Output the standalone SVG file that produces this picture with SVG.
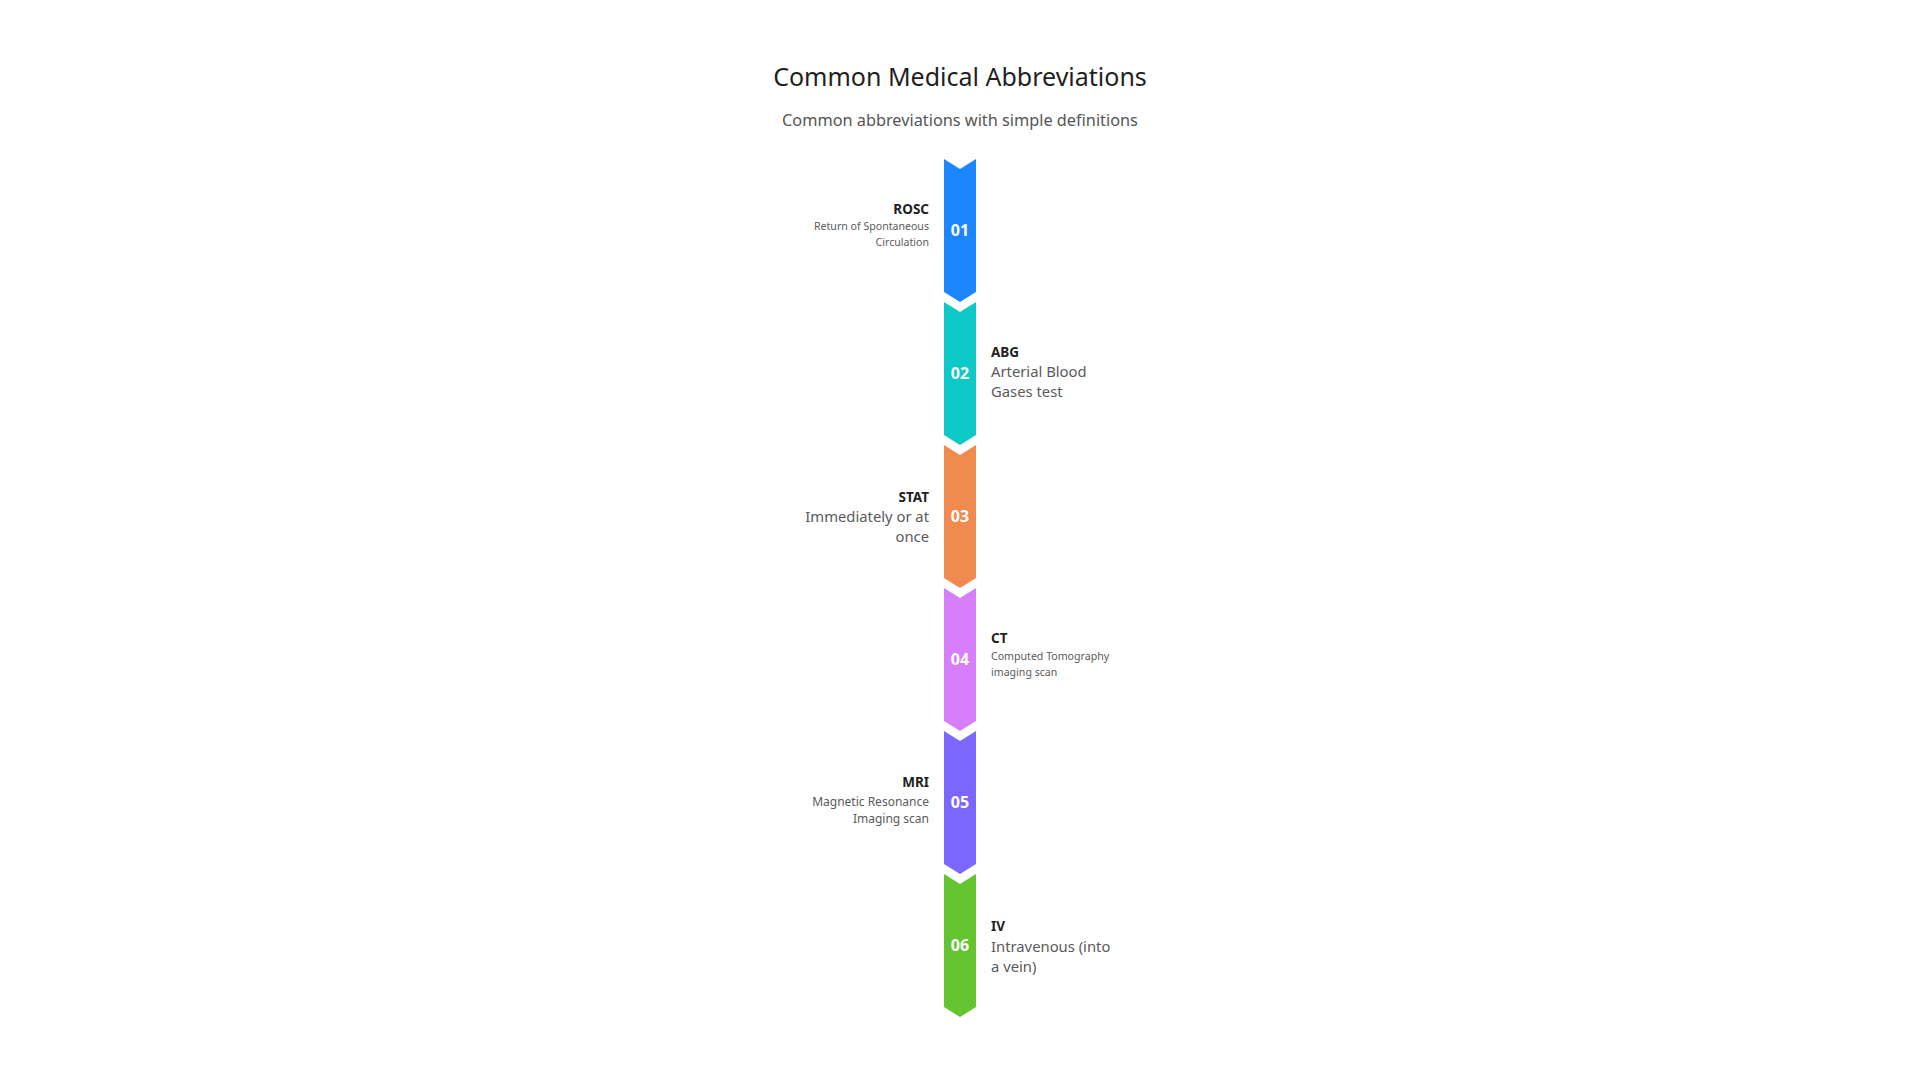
<svg xmlns="http://www.w3.org/2000/svg" width="1920" height="1080" viewBox="0 0 1920 1080">
<style>
text{font-family:"Noto Sans","Open Sans","Liberation Sans",sans-serif}
.title{font-size:25px;fill:#1f1f1f;text-anchor:middle}
.sub{font-size:16.3px;fill:#555;text-anchor:middle}
.num{font-size:16px;font-weight:bold;fill:#fff;text-anchor:middle}
.h{font-size:13.5px;font-weight:bold;fill:#222}
.d{fill:#5a5a5a}
.s{font-size:10.6px}
.m{font-size:12px}
.l{font-size:14.8px}
.end{text-anchor:end}
</style>
<defs>
<path id="chev" d="M0,0 L16,10 L32,0 L32,133 L16,143 L0,133 Z"/>
</defs>
<rect width="1920" height="1080" fill="#fff"/>
<text class="title" x="960" y="86">Common Medical Abbreviations</text>
<text class="sub" x="960" y="126">Common abbreviations with simple definitions</text>
<g id="connectors"/>
<g id="node-01">
<use href="#chev" x="944" y="159" fill="#1C86FF"/>
<text class="num" x="960" y="236">01</text>
<text class="h end" x="929" y="214">ROSC</text>
<text class="d s end" x="929" y="230">Return of Spontaneous</text>
<text class="d s end" x="929" y="246">Circulation</text>
</g>
<g id="node-02">
<use href="#chev" x="944" y="302" fill="#0CC8C6"/>
<text class="num" x="960" y="379">02</text>
<text class="h" x="991" y="357">ABG</text>
<text class="d l" x="991" y="377">Arterial Blood</text>
<text class="d l" x="991" y="397">Gases test</text>
</g>
<g id="node-03">
<use href="#chev" x="944" y="445" fill="#F08A4E"/>
<text class="num" x="960" y="522">03</text>
<text class="h end" x="929" y="502">STAT</text>
<text class="d l end" x="929" y="522">Immediately or at</text>
<text class="d l end" x="929" y="542">once</text>
</g>
<g id="node-04">
<use href="#chev" x="944" y="588" fill="#D77EFB"/>
<text class="num" x="960" y="665">04</text>
<text class="h" x="991" y="643">CT</text>
<text class="d s" x="991" y="660">Computed Tomography</text>
<text class="d s" x="991" y="676">imaging scan</text>
</g>
<g id="node-05">
<use href="#chev" x="944" y="731" fill="#7B67FF"/>
<text class="num" x="960" y="808">05</text>
<text class="h end" x="929" y="787">MRI</text>
<text class="d m end" x="929" y="806">Magnetic Resonance</text>
<text class="d m end" x="929" y="823">Imaging scan</text>
</g>
<g id="node-06">
<use href="#chev" x="944" y="874" fill="#63C430"/>
<text class="num" x="960" y="951">06</text>
<text class="h" x="991" y="931">IV</text>
<text class="d l" x="991" y="952">Intravenous (into</text>
<text class="d l" x="991" y="972">a vein)</text>
</g>
</svg>
